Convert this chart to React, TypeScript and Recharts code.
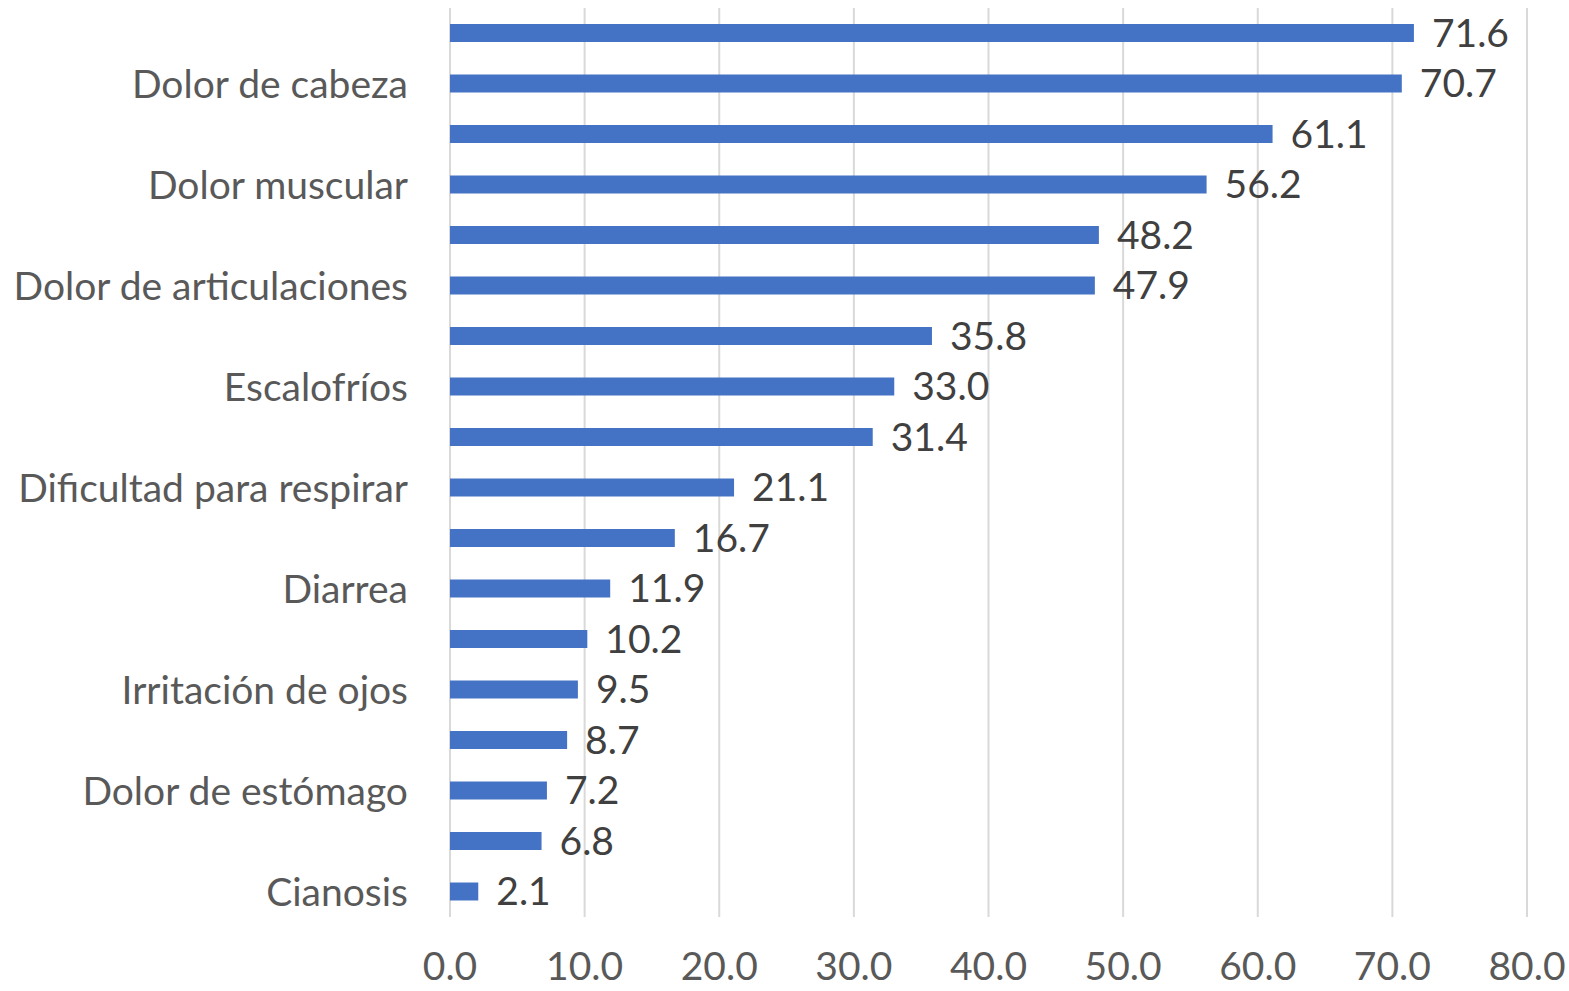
import React from "react";
import { BarChart, Bar, XAxis, YAxis, CartesianGrid, LabelList } from "recharts";

// only every second category name is legible in the source, the rest stay blank
const labels = [
  "",
  "Dolor de cabeza",
  "",
  "Dolor muscular",
  "",
  "Dolor de articulaciones",
  "",
  "Escalofríos",
  "",
  "Dificultad para respirar",
  "",
  "Diarrea",
  "",
  "Irritación de ojos",
  "",
  "Dolor de estómago",
  "",
  "Cianosis",
];
const values = [71.6, 70.7, 61.1, 56.2, 48.2, 47.9, 35.8, 33.0, 31.4, 21.1, 16.7, 11.9, 10.2, 9.5, 8.7, 7.2, 6.8, 2.1];
const xTicks = [0, 10, 20, 30, 40, 50, 60, 70, 80];

const data = values.map((v, i) => ({ id: `c${i}`, label: labels[i], value: v }));

const font = "Lato, 'Open Sans', sans-serif";

export default function App() {
  return (
    <div style={{ position: "absolute", left: 0, top: 0, background: "#fff" }}>
      <BarChart
        width={1569}
        height={991}
        data={data}
        layout="vertical"
        margin={{ top: 8, right: 42, bottom: 0, left: 0 }}
        barCategoryGap={0}
      >
        <CartesianGrid horizontal={false} stroke="#d9d9d9" strokeWidth={2} />
        <XAxis
          type="number"
          domain={[0, 80]}
          ticks={xTicks}
          interval={0}
          tickFormatter={(v: number) => v.toFixed(1)}
          axisLine={false}
          tickLine={false}
          tickSize={0}
          tickMargin={35}
          height={74}
          tick={{ fill: "#595959", fontSize: 39, fontFamily: font }}
        />
        <YAxis
          type="category"
          dataKey="id"
          width={450}
          interval={0}
          tickFormatter={(_v: string, i: number) => labels[i]}
          axisLine={false}
          tickLine={false}
          tickSize={0}
          tickMargin={42}
          tick={{ fill: "#595959", fontSize: 39, fontFamily: font }}
        />
        <Bar dataKey="value" fill="#4472C4" barSize={18} isAnimationActive={false}>
          <LabelList
            dataKey="value"
            position="right"
            offset={18}
            formatter={(v: number) => Number(v).toFixed(1)}
            style={{ fill: "#404040", fontSize: 39, fontFamily: font }}
          />
        </Bar>
      </BarChart>
    </div>
  );
}
